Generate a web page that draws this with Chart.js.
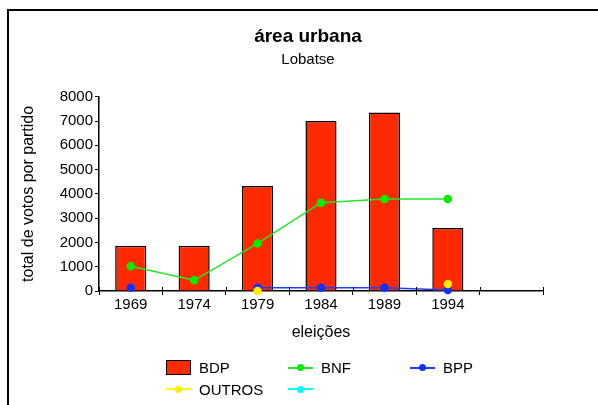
<!DOCTYPE html>
<html>
<head>
<meta charset="utf-8">
<script src="https://cdn.jsdelivr.net/npm/chart.js@4"></script>
<style>
  html, body { margin: 0; padding: 0; background: #fff; overflow: hidden; }
  body { width: 598px; height: 405px; position: relative; font-family: "Liberation Sans", Arial, sans-serif; }
  #frame { position: absolute; left: 7px; top: 9px; width: 700px; height: 500px; border: 2px solid #000; }
  #chart { position: absolute; left: 0; top: 0; }
  #legend { position: absolute; left: 166px; top: 357px; display: grid; grid-template-columns: 122px 122px 122px; }
  .item { display: flex; align-items: center; height: 21.6px; font-size: 15px; color: #000; }
  .swatch { width: 25px; height: 15px; box-sizing: border-box; border: 1.5px solid #000; margin-right: 8px; }
  .line { position: relative; width: 25px; height: 2px; margin-right: 8px; }
  .line span { position: absolute; left: 9px; top: -2.5px; width: 7px; height: 7px; border-radius: 50%; }
</style>
</head>
<body>
<div id="frame"></div>
<canvas id="chart" width="598" height="405"></canvas>
<div id="legend"></div>
<script>
// eleições (the last slot is left empty, as in the original)
const years = ['1969', '1974', '1979', '1984', '1989', '1994', ''];

// total de votos por partido
const bdp = [1860, 1860, 4330, 7000, 7350, 2600];
const bnf = [1020, 440, 1960, 3640, 3790, 3790];
const bpp = [130, null, 130, 130, 130, 40];
const outros = [null, null, 0, null, null, 290];
const semNome = [];

const yMax = 8000;
const yStep = 1000;

// small tick marks poking above the x axis at each category boundary
const crossTicks = {
  id: 'crossTicks',
  afterDraw(chart) {
    const x = chart.scales.x;
    const ctx = chart.ctx;
    ctx.save();
    ctx.strokeStyle = '#000';
    ctx.lineWidth = 1;
    for (let i = 0; i <= years.length; i++) {
      const px = Math.round(x.getPixelForValue(i - 0.5)) + 0.5;
      ctx.beginPath();
      ctx.moveTo(px, x.top - 4);
      ctx.lineTo(px, x.top);
      ctx.stroke();
    }
    ctx.restore();
  }
};

Chart.defaults.font.family = '"Liberation Sans", Arial, sans-serif';
Chart.defaults.color = '#000';

const chart = new Chart(document.getElementById('chart'), {
  type: 'bar',
  data: {
    labels: years,
    datasets: [
      {
        label: 'BDP',
        data: bdp,
        backgroundColor: '#ff2a00',
        borderColor: '#000',
        borderWidth: 1.5,
        barPercentage: 0.49,
        categoryPercentage: 1,
        order: 10
      },
      {
        type: 'line',
        label: 'BNF',
        data: bnf,
        borderColor: '#22e622',
        backgroundColor: '#00ee00',
        pointBackgroundColor: '#00ee00',
        pointBorderColor: '#00ee00',
        borderWidth: 1.5,
        pointRadius: 3.5,
        clip: false,
        order: 3
      },
      {
        type: 'line',
        label: 'BPP',
        data: bpp,
        borderColor: '#2040ff',
        backgroundColor: '#1030ff',
        pointBackgroundColor: '#1030ff',
        pointBorderColor: '#1030ff',
        borderWidth: 1.5,
        pointRadius: 3.5,
        clip: false,
        order: 2
      },
      {
        type: 'line',
        label: 'OUTROS',
        data: outros,
        borderColor: '#ffff00',
        backgroundColor: '#ffee00',
        pointBackgroundColor: '#ffee00',
        pointBorderColor: '#ffee00',
        borderWidth: 1.5,
        pointRadius: 3.5,
        clip: false,
        order: 1
      },
      {
        type: 'line',
        label: '',
        data: semNome,
        borderColor: '#00ffff',
        backgroundColor: '#00ffff',
        pointBackgroundColor: '#00ffff',
        borderWidth: 1.5,
        pointRadius: 3.5,
        order: 0
      }
    ]
  },
  options: {
    responsive: false,
    animation: false,
    devicePixelRatio: 1,
    layout: { padding: { left: 18, right: 0, top: 0, bottom: 63 } },
    plugins: {
      legend: { display: false },
      tooltip: { enabled: false },
      title: {
        display: true,
        text: 'área urbana',
        font: { size: 19, weight: 'bold' },
        padding: { top: 25, bottom: 0 }
      },
      subtitle: {
        display: true,
        text: 'Lobatse',
        font: { size: 15 },
        padding: { top: 3, bottom: 28 }
      }
    },
    scales: {
      x: {
        grid: { display: true, drawOnChartArea: false, offset: true, tickLength: 4, color: '#000' },
        border: { color: '#000', width: 1.5 },
        ticks: { font: { size: 15 }, padding: 1, maxRotation: 0, autoSkip: false },
        title: { display: true, text: 'eleições', font: { size: 16 }, padding: { top: 0, bottom: 0 } },
        afterFit(s) { s.height = 51; }
      },
      y: {
        min: 0,
        max: yMax,
        ticks: { stepSize: yStep, font: { size: 15 }, padding: 2, callback: v => String(v) },
        grid: { drawOnChartArea: false, tickLength: 4, color: '#000' },
        border: { color: '#000', width: 1.5 },
        title: { display: true, text: 'total de votos por partido', font: { size: 16 }, padding: { top: 1, bottom: 0 } },
        afterFit(s) { s.width = 81; }
      },
      yr: {
        type: 'linear',
        position: 'right',
        display: true,
        grid: { display: false, drawTicks: false },
        border: { display: false },
        ticks: { display: false },
        afterFit(s) { s.width = 55; }
      }
    }
  },
  plugins: [crossTicks]
});

// legend laid out in three columns like the original
const legend = document.getElementById('legend');
chart.data.datasets.forEach(ds => {
  const item = document.createElement('div');
  item.className = 'item';
  if (ds.type === 'line') {
    item.innerHTML = `<div class="line" style="background:${ds.borderColor}"><span style="background:${ds.pointBackgroundColor}"></span></div>${ds.label}`;
  } else {
    item.innerHTML = `<div class="swatch" style="background:${ds.backgroundColor}"></div>${ds.label}`;
  }
  legend.appendChild(item);
});
</script>
</body>
</html>
